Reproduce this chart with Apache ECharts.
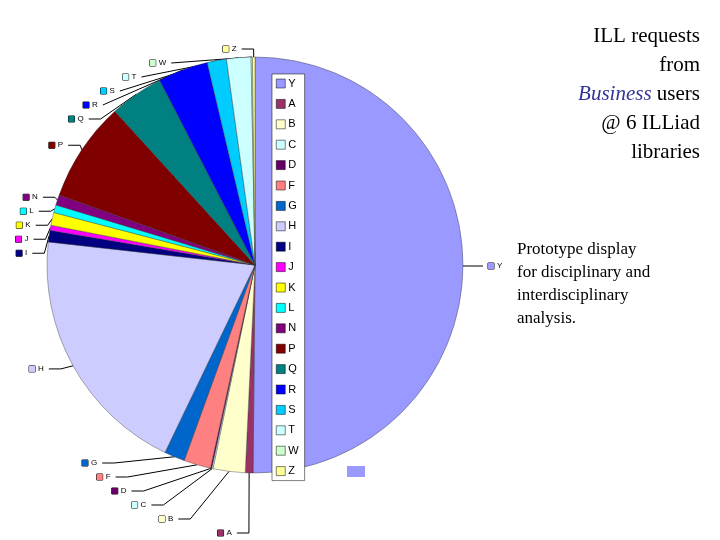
<!DOCTYPE html>
<html>
<head>
<meta charset="utf-8">
<script src="https://cdn.jsdelivr.net/npm/echarts@6/dist/echarts.min.js"></script>
<style>body{margin:0;background:#fff}#main{width:720px;height:540px}</style>
</head>
<body>
<div id="main"></div>
<script>
// ILL requests from Business users, by discipline code (percent)
const codes = ['Y', 'A', 'B', 'C', 'D', 'F', 'G', 'H', 'I', 'J', 'K', 'L', 'N', 'P', 'Q', 'R', 'S', 'T', 'W', 'Z'];
const shares = [50.3, 0.6, 2.5, 0.1, 0.1, 2.1, 1.6, 19.7, 0.9, 0.4, 1.0, 0.6, 0.8, 7.8, 4.2, 3.9, 1.5, 1.9, 0.1, 0.2];
const colors = ['#9999ff', '#993366', '#ffffcc', '#ccffff', '#660066', '#ff8080', '#0066cc', '#ccccff',
    '#000080', '#ff00ff', '#ffff00', '#00ffff', '#800080', '#800000', '#008080', '#0000ff',
    '#00ccff', '#ccffff', '#ccffcc', '#ffff99'];
const titleLines = ['ILL requests', 'from', '{i|Business} users', '@ 6 ILLiad', 'libraries'];

let chart = echarts.init(document.getElementById('main'));

let data = codes.map((c, i) => ({
    name: c,
    value: shares[i],
    itemStyle: {color: colors[i]},
    label: {
        formatter: '{b|}{n|' + c + '}',
        rich: {
            b: {width: 6, height: 6, backgroundColor: colors[i], borderColor: '#000', borderWidth: 0.5},
            n: {fontSize: 8, color: '#000', padding: [0, 0, 0, 3], fontFamily: 'Liberation Sans'}
        }
    }
}));

let graphic = [
    {type: 'rect', shape: {x: 347, y: 466, width: 18, height: 11}, style: {fill: '#9999ff'}}
];
titleLines.forEach((t, i) => {
    graphic.push({type: 'text', x: 700, y: 36 + i * 29, style: {
        text: t, align: 'right', verticalAlign: 'middle', fontSize: 21, fill: '#000', fontFamily: 'Liberation Serif',
        rich: {i: {fontStyle: 'italic', fill: '#333399', fontSize: 21, fontFamily: 'Liberation Serif'}}
    }});
});
graphic.push({type: 'text', left: 517, top: 238, style: {
    text: 'Prototype display\nfor disciplinary and\ninterdisciplinary\nanalysis.',
    fontSize: 17, lineHeight: 23, fill: '#000', fontFamily: 'Liberation Serif'
}});

let option = {
    animation: false,
    legend: {
        orient: 'vertical',
        left: 272,
        top: 74,
        itemWidth: 9,
        itemHeight: 9,
        itemGap: 9.4,
        icon: 'rect',
        backgroundColor: '#fff',
        borderColor: '#000',
        borderWidth: 0.5,
        padding: [4, 6, 4, 4],
        textStyle: {fontSize: 11, color: '#000', padding: [0, 0, 0, -2]},
        itemStyle: {borderColor: '#000', borderWidth: 0.5},
        data: codes
    },
    series: [{
        type: 'pie',
        center: [255, 265],
        radius: 208,
        startAngle: 90,
        clockwise: true,
        avoidLabelOverlap: true,
        label: {position: 'outside'},
        labelLine: {length: 8, length2: 12, lineStyle: {color: '#000', width: 1}},
        itemStyle: {borderColor: '#333', borderWidth: 0.4},
        emphasis: {disabled: true},
        data: data
    }],
    graphic: graphic
};
chart.setOption(option);
</script>
</body>
</html>
